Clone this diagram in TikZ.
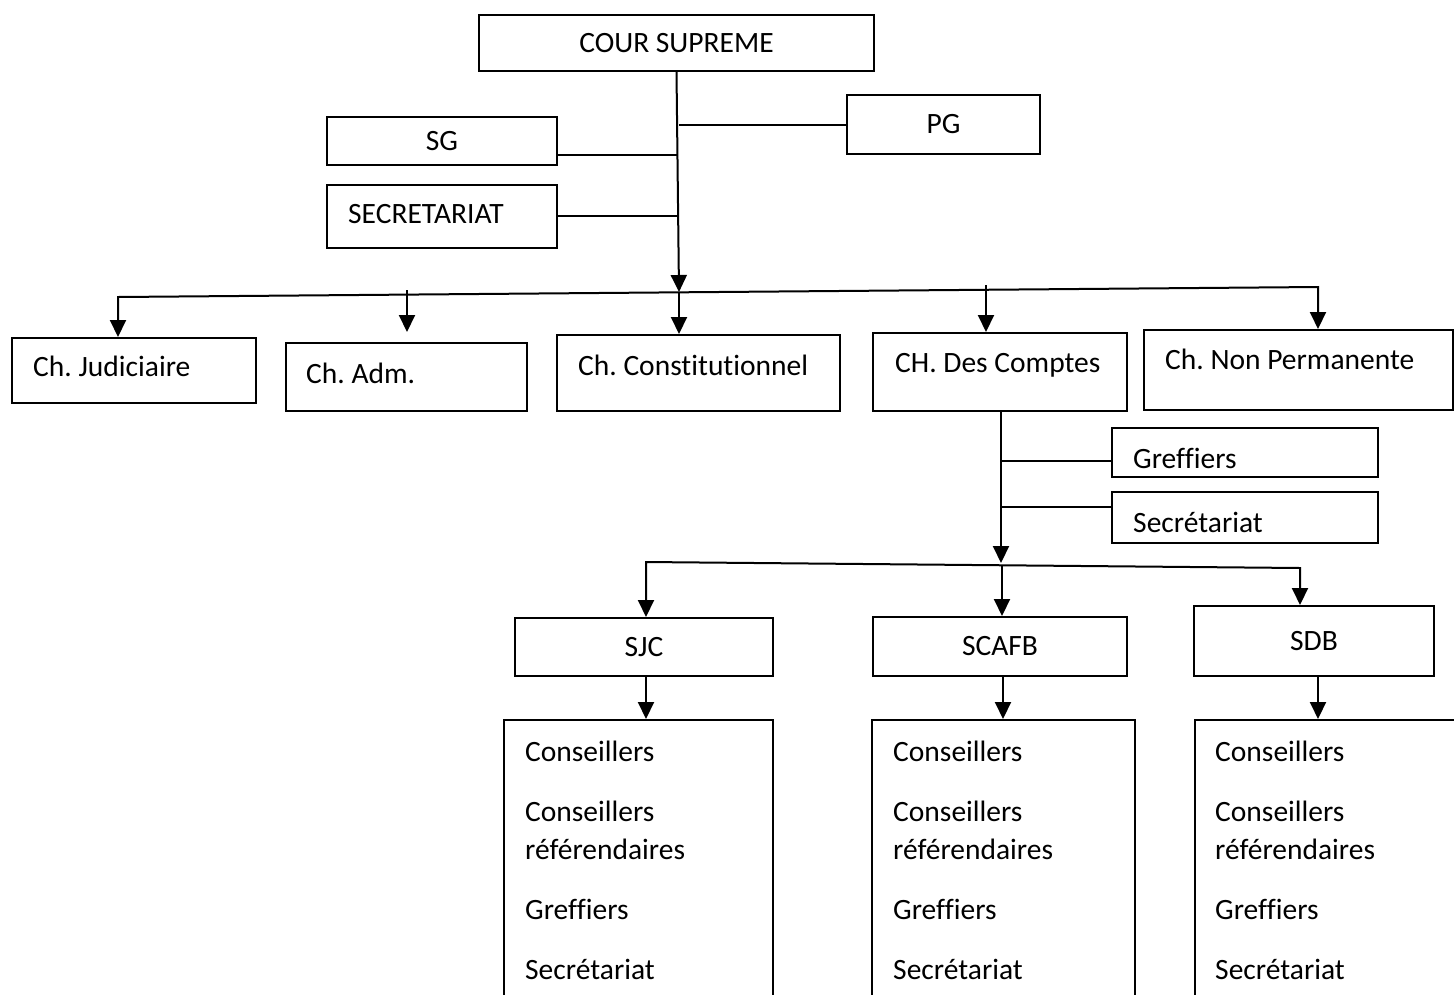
\documentclass[tikz,border=0pt]{standalone}
\usepackage{fontspec}
\setmainfont{Carlito}[Ligatures=NoCommon]
\frenchspacing
\usetikzlibrary{arrows.meta}
\tikzset{
  box/.style={draw, line width=2pt, inner sep=0pt, rectangle, font=\fontsize{29.5}{35}\selectfont},
  txt/.style={inner sep=0pt, anchor=west, font=\fontsize{29.5}{35}\selectfont},
  conn/.style={line width=2pt},
  arr/.style={line width=2pt, -{Triangle[width=16pt,length=17pt]}},
  arrbi/.style={line width=2pt, {Triangle[width=16pt,length=17pt]}-{Triangle[width=16pt,length=17pt]}},
}
\newcommand\mybox[6]{\node[box, minimum width={#4-#2}, minimum height={#5-#3}] (#1) at ({(#2+#4)/2},{(#3+#5)/2}) {#6};}
\begin{document}
\begin{tikzpicture}[x=1pt,y=-1pt]
\frenchspacing
\useasboundingbox (0,0) rectangle (1454,994);
\fill[white] (0,0) rectangle (1454,994);
\clip (0,0) rectangle (1454,994);
% top boxes
\mybox{cour}{479}{15}{874}{71}{COUR SUPREME}
\mybox{sg}{327}{117}{557}{165}{SG}
\mybox{sec}{327}{185}{557}{248}{}
\node[txt] (secT) at (348,214) {SECRETARIAT};
\mybox{pg}{847}{95}{1040}{154}{PG}
% level 2
\mybox{jud}{12}{338}{256}{403}{}
\node[txt] (judT) at (33,366) {Ch. Judiciaire};
\mybox{adm}{286}{343}{527}{411}{}
\node[txt] (admT) at (306,373) {Ch. Adm.};
\mybox{const}{557}{335}{840}{411}{}
\node[txt] (constT) at (578,365) {Ch. Constitutionnel};
\mybox{comptes}{873}{333}{1127}{411}{}
\node[txt] (comptesT) at (895,365) {CH. Des Comptes};
\mybox{nonp}{1144}{330}{1453}{410}{}
\node[txt] (nonpT) at (1165,359) {Ch. Non Permanente};
% side boxes of comptes
\mybox{gref}{1112}{428}{1378}{477}{}
\node[txt] (grefT) at (1133,458) {Greffiers};
\mybox{csec}{1112}{492}{1378}{543}{}
\node[txt] (csecT) at (1133,522) {Secrétariat};
% level 3
\mybox{sjc}{515}{618}{773}{676}{SJC}
\mybox{scafb}{873}{617}{1127}{676}{SCAFB}
\mybox{sdb}{1194}{606}{1434}{676}{SDB}
% bottom boxes (cut by page edge)
\mybox{l1}{504}{720}{773}{1020}{}
\mybox{l2}{872}{720}{1135}{1020}{}
\mybox{l3}{1195}{720}{1480}{1020}{}
\foreach \n/\x in {a/525,b/893,c/1215}{
  \node[txt] (c1\n) at (\x,751) {Conseillers};
  \node[txt] (c2\n) at (\x,811) {Conseillers};
  \node[txt] (c3\n) at (\x,849) {référendaires};
  \node[txt] (c4\n) at (\x,909) {Greffiers};
  \node[txt] (c5\n) at (\x,969) {Secrétariat};
}
% connectors top
\coordinate (mt) at (679,292);
\draw[arr] (cour.south) -- (mt);
\coordinate (pgj) at (679,125);
\draw[conn] (pgj) -- (pgj -| pg.west);
\coordinate (sgj) at (677,155);
\draw[conn] (sg.east |- sgj) -- (sgj);
\coordinate (secj) at (678,216);
\draw[conn] (sec.east |- secj) -- (secj);
% bus 1
\coordinate (bL) at (118,297);
\coordinate (bR) at (1318,287);
\draw[arrbi] (bL |- jud.north) -- (bL) -- (bR) -- (bR |- nonp.north);
\coordinate (d2) at (407,290);
\draw[arr] (d2) -- ([yshift=10pt]adm.north -| d2);
\draw[arr] (mt) -- (mt |- const.north);
\coordinate (d4) at (986,285);
\draw[arr] (d4) -- (d4 |- comptes.north);
% below comptes
\coordinate (ct) at (1001,563);
\draw[arr] (comptes.south -| ct) -- (ct);
\coordinate (gj) at (1001,461);
\draw[conn] (gj) -- (gj -| gref.west);
\coordinate (sj2) at (1001,507);
\draw[conn] (sj2) -- (sj2 -| csec.west);
% bus 2
\coordinate (b2L) at (646,562);
\coordinate (b2R) at (1300,568);
\draw[arrbi] (b2L |- sjc.north) -- (b2L) -- (b2R) -- (b2R |- sdb.north);
\coordinate (b2M) at (1002,565);
\draw[arr] (b2M) -- (b2M |- scafb.north);
% level 3 to bottom
\coordinate (e1) at (646,676);
\draw[arr] (e1) -- (e1 |- l1.north);
\coordinate (e2) at (1003,676);
\draw[arr] (e2) -- (e2 |- l2.north);
\coordinate (e3) at (1318,676);
\draw[arr] (e3) -- (e3 |- l3.north);
\end{tikzpicture}
\end{document}
